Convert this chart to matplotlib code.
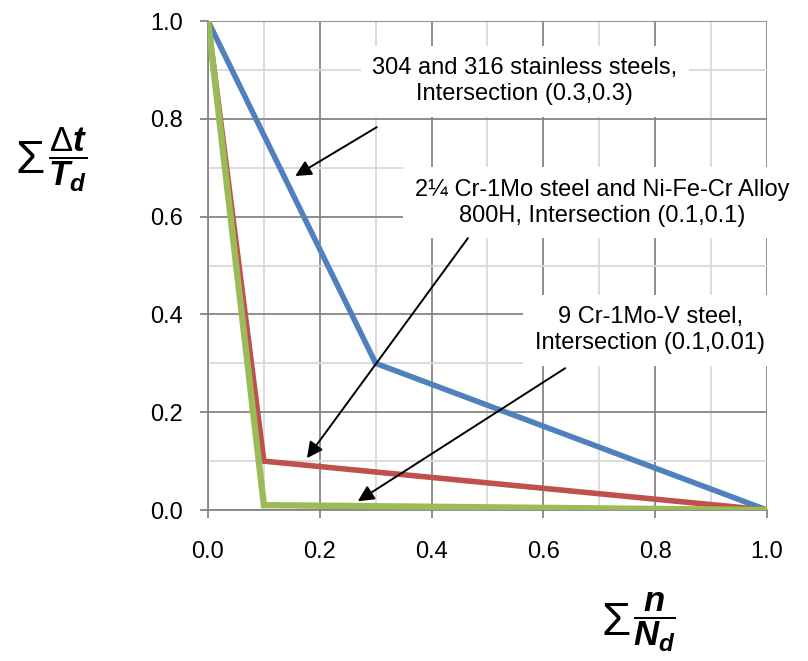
import matplotlib
matplotlib.use("Agg")
import matplotlib.pyplot as plt
from matplotlib.ticker import MultipleLocator

plt.rcParams["font.family"] = ["Liberation Sans", "DejaVu Sans"]
plt.rcParams["mathtext.fontset"] = "custom"
plt.rcParams["mathtext.rm"] = "Liberation Sans"
plt.rcParams["mathtext.it"] = "Liberation Sans:italic:bold"
plt.rcParams["mathtext.bf"] = "Liberation Sans:bold"

# Curves: sum(n/Nd) vs sum(dt/Td)
x_ss = [0.0, 0.3, 1.0]
y_ss = [1.0, 0.3, 0.0]
x_crmo = [0.0, 0.1, 1.0]
y_crmo = [1.0, 0.1, 0.0]
x_crmov = [0.0, 0.1, 1.0]
y_crmov = [1.0, 0.01, 0.0]

labels = [
    "304 and 316 stainless steels,\nIntersection (0.3,0.3)",
    "2\u00bc Cr-1Mo steel and Ni-Fe-Cr Alloy\n800H, Intersection (0.1,0.1)",
    "9 Cr-1Mo-V steel,\nIntersection (0.1,0.01)",
]
label_pos = [(0.567, 0.877), (0.705, 0.628), (0.791, 0.368)]
arrow_tail = [(0.302, 0.783), (0.465, 0.556), (0.639, 0.290)]
arrow_tip = [(0.156, 0.683), (0.177, 0.106), (0.268, 0.018)]

fig = plt.figure(figsize=(8.08, 6.61), dpi=100)
ax = fig.add_axes([0.2574, 0.2284, 0.6918, 0.7398])

ax.plot(x_ss, y_ss, color="#4F81BD", lw=4.0, solid_joinstyle="miter", zorder=3)
ax.plot(x_crmo, y_crmo, color="#C0504D", lw=4.0, solid_joinstyle="miter", zorder=3)
ax.plot(x_crmov, y_crmov, color="#9BBB59", lw=4.6, solid_joinstyle="miter", zorder=3)

ax.set_xlim(0, 1)
ax.set_ylim(0, 1)
ax.xaxis.set_major_locator(MultipleLocator(0.2))
ax.yaxis.set_major_locator(MultipleLocator(0.2))
ax.xaxis.set_minor_locator(MultipleLocator(0.1))
ax.yaxis.set_minor_locator(MultipleLocator(0.1))
ax.xaxis.set_major_formatter(plt.FormatStrFormatter("%.1f"))
ax.yaxis.set_major_formatter(plt.FormatStrFormatter("%.1f"))

ax.grid(which="minor", color="#d9d9d9", lw=1.3, zorder=0)
ax.grid(which="major", color="#868686", lw=1.3, zorder=0)
ax.set_axisbelow(True)

for s in ["top", "right"]:
    ax.spines[s].set_visible(False)
for s in ["left", "bottom"]:
    ax.spines[s].set_color("#868686")
    ax.spines[s].set_linewidth(1.3)

ax.tick_params(which="major", direction="out", length=6, width=1.3, color="#868686",
               labelsize=17, labelcolor="black")
ax.tick_params(axis="y", which="major", pad=12)
ax.tick_params(axis="x", which="major", pad=16)
ax.tick_params(which="minor", length=0)

for txt, pos in zip(labels, label_pos):
    ax.text(pos[0], pos[1], txt, ha="center", va="center", fontsize=17,
            linespacing=1.2, zorder=4, clip_on=False,
            bbox=dict(boxstyle="square,pad=0.5", fc="white", ec="none"))

for tail, tip in zip(arrow_tail, arrow_tip):
    ax.annotate("", xy=tip, xytext=tail, annotation_clip=False, zorder=5,
                arrowprops=dict(arrowstyle="-|>", color="black", lw=1.4,
                                mutation_scale=24, shrinkA=0, shrinkB=0))

# axis titles: big sigma plus fraction
fig.text(0.037, 0.757, "\u03a3", fontsize=34, ha="center", va="center")
fig.text(0.059, 0.758, r"$\dfrac{\Delta t}{T_d}$", fontsize=25, ha="left", va="center")
fig.text(0.762, 0.058, "\u03a3", fontsize=34, ha="center", va="center")
fig.text(0.784, 0.059, r"$\dfrac{n}{N_d}$", fontsize=25, ha="left", va="center")

fig.savefig("out.png", dpi=100)
